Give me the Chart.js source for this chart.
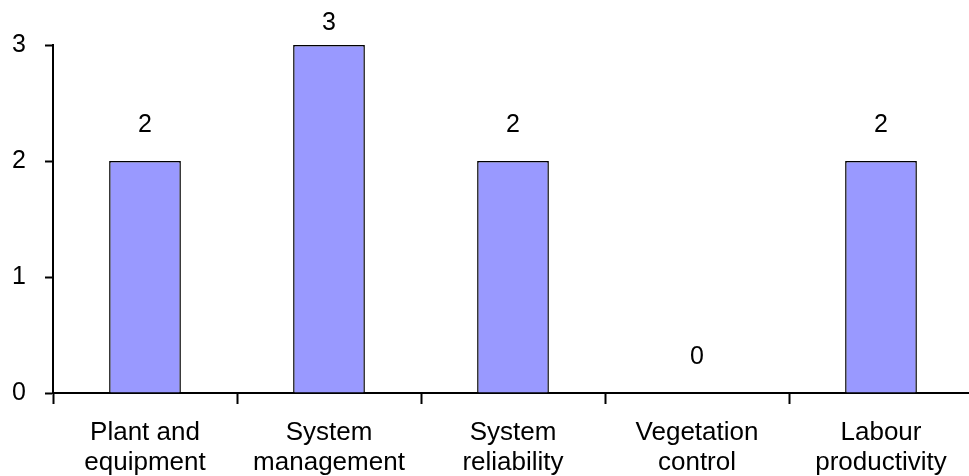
<!DOCTYPE html>
<html>
<head>
<meta charset="utf-8">
<script src="https://cdn.jsdelivr.net/npm/chart.js@4/dist/chart.umd.min.js"></script>
<style>
  html, body { margin: 0; padding: 0; background: #fff; overflow: hidden; }
  #wrap { width: 1000px; height: 476px; position: relative; }
</style>
</head>
<body>
<div id="wrap"><canvas id="c" width="1000" height="476"></canvas></div>
<script>
// Categories (two-line labels) and their counts
const categories = [
  ['Plant and', 'equipment'],
  ['System', 'management'],
  ['System', 'reliability'],
  ['Vegetation', 'control'],
  ['Labour', 'productivity']
];
const counts = [2, 3, 2, 0, 2];
const yTicks = [0, 1, 2, 3];

const FONT = 'Arial, "Liberation Sans", sans-serif';

// Writes each bar's value above it, kept inside the top edge of the canvas
const valueLabels = {
  id: 'valueLabels',
  afterDatasetsDraw(chart) {
    const ctx = chart.ctx;
    const meta = chart.getDatasetMeta(0);
    ctx.save();
    ctx.font = '25px ' + FONT;
    ctx.fillStyle = '#000';
    ctx.textAlign = 'center';
    ctx.textBaseline = 'middle';
    meta.data.forEach((bar, i) => {
      const y = Math.max(bar.y - 36, 23);
      ctx.fillText(String(counts[i]), bar.x, y);
    });
    ctx.restore();
  }
};

new Chart(document.getElementById('c'), {
  type: 'bar',
  data: {
    labels: categories,
    datasets: [{
      data: counts,
      backgroundColor: '#9999FF',
      borderColor: '#000',
      borderWidth: 1.5,
      barPercentage: 0.39,
      categoryPercentage: 1
    }]
  },
  options: {
    responsive: false,
    animation: false,
    layout: { padding: { top: 45, right: 27, left: 0, bottom: 0 } },
    plugins: {
      legend: { display: false },
      tooltip: { enabled: false }
    },
    scales: {
      x: {
        grid: {
          drawOnChartArea: false,
          drawTicks: true,
          tickLength: 11,
          tickWidth: 2,
          tickColor: '#000',
          offset: true
        },
        border: { display: true, color: '#000', width: 2 },
        ticks: {
          color: '#000',
          font: { family: FONT, size: 26, lineHeight: 1.15 },
          padding: 14,
          maxRotation: 0,
          autoSkip: false
        },
        afterFit(scale) { scale.height = 83; }
      },
      y: {
        min: 0,
        max: 3,
        afterBuildTicks(scale) { scale.ticks = yTicks.map(v => ({ value: v })); },
        grid: {
          drawOnChartArea: false,
          drawTicks: true,
          tickLength: 8,
          tickWidth: 2,
          tickColor: '#000'
        },
        border: { display: true, color: '#000', width: 2 },
        ticks: {
          color: '#000',
          font: { family: FONT, size: 25 },
          padding: 19
        },
        afterFit(scale) { scale.width = 53; }
      }
    }
  },
  plugins: [valueLabels]
});
</script>
</body>
</html>
